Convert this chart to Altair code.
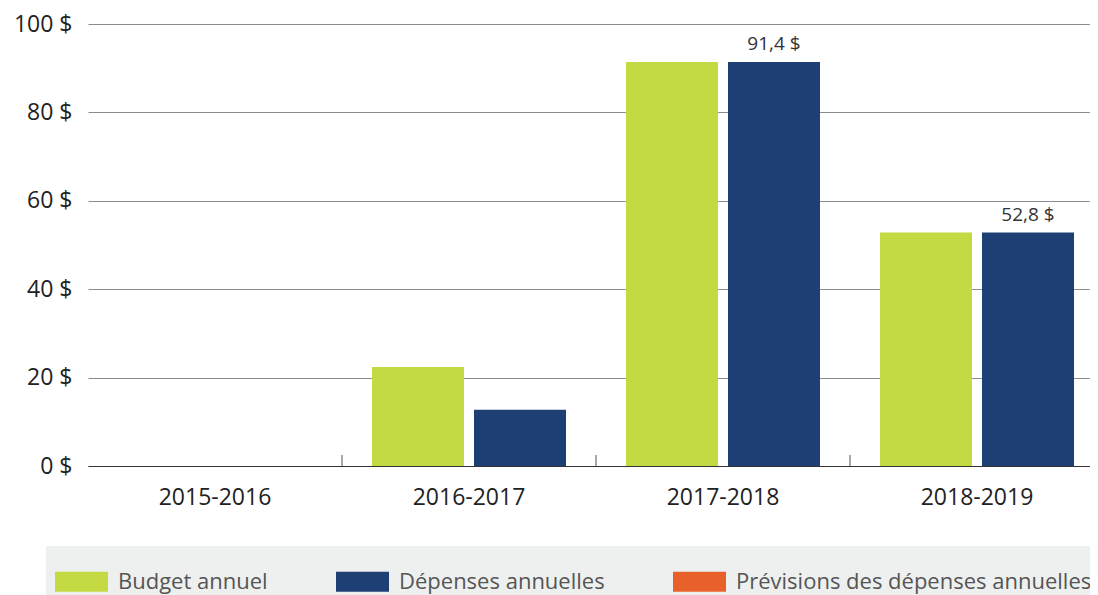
import altair as alt
import pandas as pd

years = ["2015-2016", "2016-2017", "2017-2018", "2018-2019"]
series = ["Budget annuel", "Dépenses annuelles", "Prévisions des dépenses annuelles"]
budget = [0.0, 22.4, 91.4, 52.8]
depenses = [0.0, 12.7, 91.4, 52.8]
annotated = ["2017-2018", "2018-2019"]
colors = ["#c5d942", "#1d3f73", "#e8602a"]
y_ticks = [0, 20, 40, 60, 80, 100]

rows = []
for y, b, d in zip(years, budget, depenses):
    rows.append({"year": y, "series": series[0], "value": b})
    rows.append({"year": y, "series": series[1], "value": d})
df = pd.DataFrame(rows)

FONT = "Open Sans"
W, H = 1002, 442

xscale = alt.Scale(domain=years, range=[0, 1016], paddingInner=60 / 254, paddingOuter=30 / 254)
yscale = alt.Scale(domain=[0, 100], nice=False)
xoff_scale = alt.Scale(domain=series[:2], paddingInner=10 / 102, paddingOuter=0)

bars = alt.Chart(df).mark_bar().encode(
    x=alt.X("year:N", scale=xscale, sort=years,
            axis=alt.Axis(title=None, labelAngle=0, ticks=False, labelPadding=20,
                          labelFontSize=23, labelColor="#222", labelFont=FONT,
                          domainColor="#333", domainWidth=1.2, grid=False)),
    xOffset=alt.XOffset("series:N", scale=xoff_scale),
    y=alt.Y("value:Q", scale=yscale,
            axis=alt.Axis(title=None, values=y_ticks, labelExpr="datum.value + ' $'",
                          labelFontSize=23, labelColor="#222", labelFont=FONT,
                          labelPadding=16, ticks=False, domain=False,
                          grid=True, gridColor="#8c8c8c", gridWidth=1)),
    color=alt.Color("series:N", scale=alt.Scale(domain=series, range=colors),
                    legend=alt.Legend(title=None, orient="none", legendX=-42, legendY=522,
                                      direction="horizontal")),
)

labels = alt.Chart(df).transform_filter(
    alt.FieldOneOfPredicate(field="year", oneOf=annotated)
).transform_filter(
    alt.datum.series == series[1]
).transform_calculate(
    label="replace(format(datum.value, '.1f'), '.', ',') + ' $'"
).mark_text(baseline="bottom", dy=-8, fontSize=19, font=FONT, color="#333").encode(
    x=alt.X("year:N", scale=xscale, sort=years),
    xOffset=alt.XOffset("series:N", scale=xoff_scale),
    y=alt.Y("value:Q", scale=yscale),
    text="label:N",
)

tick_df = pd.DataFrame({"year": years[1:]})
ticks = alt.Chart(tick_df).mark_rule(color="#555", strokeWidth=1, xOffset=-30).encode(
    x=alt.X("year:N", scale=xscale, sort=years, bandPosition=0),
    y=alt.value(H),
    y2=alt.value(H - 11),
)

chart = alt.layer(bars, ticks, labels).properties(
    width=W, height=H,
    autosize=alt.AutoSizeParams(type="none"),
    padding={"left": 80, "top": 16, "right": 0, "bottom": 129},
).configure_view(stroke=None).configure_legend(
    symbolType="M-1,-0.377H1V0.377H-1Z",
    symbolSize=2809,
    symbolStrokeWidth=0,
    symbolOpacity=1,
    labelFontSize=22,
    labelFont=FONT,
    labelColor="#555",
    labelOffset=10,
    columnPadding=68,
    padding=9,
    fillColor="#eef0ef",
    labelLimit=600,
)

chart.save("out.html", embed_options={"renderer": "svg", "actions": False})
